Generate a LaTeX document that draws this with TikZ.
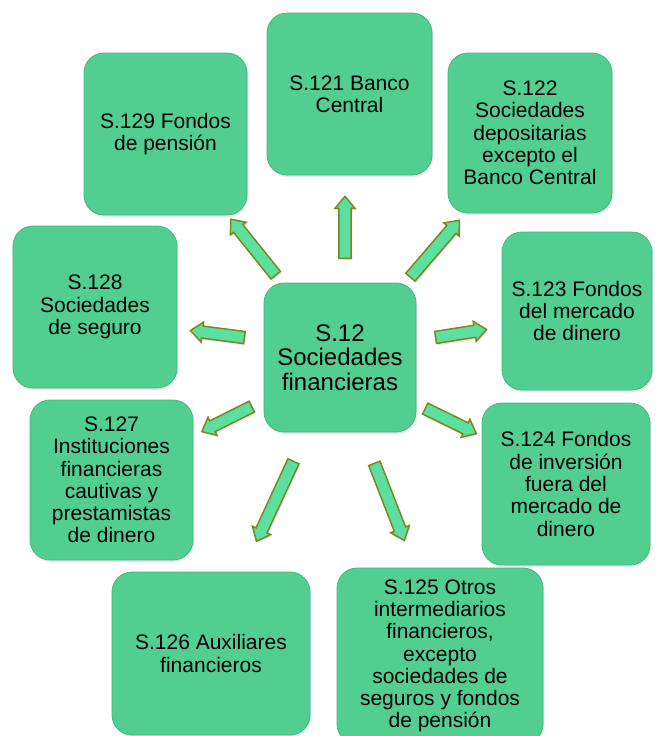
\documentclass[tikz,border=0pt]{standalone}
\usepackage{fontspec}
\setmainfont{Liberation Sans}
\usetikzlibrary{shapes.arrows,calc,shadows}
\definecolor{boxgreen}{HTML}{52CF90}
\definecolor{boxedge}{HTML}{44B87D}
\definecolor{arrowfill}{HTML}{5CE0A0}
\definecolor{arrowedge}{HTML}{7E8420}
\newcommand\blockarr[3]{%
  \path let \p1=($(#3)-(#2)$), \n1={atan2(\y1,\x1)}, \n2={veclen(\x1,\y1)} in
    node[blockarrow, minimum height=\n2, rotate=\n1] (#1) at ($(#2)!0.5!(#3)$) {};}
\begin{document}
\begin{tikzpicture}[x=0.75pt,y=-0.75pt,
  box/.style 2 args={draw=boxedge, line width=0.6pt, fill=boxgreen,
    rounded corners=15pt, minimum width=#1*0.75pt, minimum height=#2*0.75pt,
    inner sep=0pt, align=center, font=\fontsize{15.75}{16.7}\selectfont,
    drop shadow={opacity=0.18, shadow xshift=1pt, shadow yshift=-1.5pt}},
  bigtext/.style={font=\fontsize{18}{18.3}\selectfont},
  blockarrow/.style={single arrow, draw=arrowedge, fill=arrowfill,
    line width=1.1pt, minimum width=15pt, single arrow head extend=3pt,
    single arrow tip angle=80, inner xsep=0pt, inner ysep=4pt,
    drop shadow={opacity=0.2, shadow xshift=1pt, shadow yshift=-1.5pt}}]
\useasboundingbox (0,0) rectangle (657,736);
\clip (0,0) rectangle (657,736);

% boxes
\node[box={152}{149}, bigtext] (c) at (340,357.5) {S.12\\Sociedades\\financieras};
\node[box={163}{162}] (s129) at (165.5,134) {S.129 Fondos\\de pensión};
\node[box={165}{162}] (s121) at (349.5,94) {S.121 Banco\\Central};
\node[box={164}{160}] (s122) at (530,133) {S.122\\Sociedades\\depositarias\\excepto el\\Banco Central};
\node[box={150}{158}] (s123) at (577,311) {S.123 Fondos\\del mercado\\de dinero};
\node[box={168}{162}] (s124) at (566,484) {S.124 Fondos\\de inversión\\fuera del\\mercado de\\dinero};
\node[box={206}{176}] (s125) at (440,656) {S.125 Otros\\intermediarios\\financieros,\\excepto\\sociedades de\\seguros y fondos\\de pensión};
\node[box={198}{163}] (s126) at (211,653.5) {S.126 Auxiliares\\financieros};
\node[box={163}{160}] (s127) at (111.5,480) {S.127\\Instituciones\\financieras\\cautivas y\\prestamistas\\de dinero};
\node[box={164}{162}] (s128) at (95,307) {S.128\\Sociedades\\de seguro};

% arrow end points
\coordinate (t1) at (345,262); \coordinate (h1) at (345,200);
\coordinate (t2) at (278,278); \coordinate (h2) at (233,222);
\coordinate (t3) at (408,280); \coordinate (h3) at (457,223);
\coordinate (t4) at (248,338); \coordinate (h4) at (194,331);
\coordinate (t5) at (432,338); \coordinate (h5) at (483,330);
\coordinate (t6) at (255,405); \coordinate (h6) at (205,430);
\coordinate (t7) at (422,407); \coordinate (h7) at (473,432);
\coordinate (t8) at (295,458); \coordinate (h8) at (258,538);
\coordinate (t9) at (373,460); \coordinate (h9) at (403,537);

\blockarr{a1}{t1}{h1}
\blockarr{a2}{t2}{h2}
\blockarr{a3}{t3}{h3}
\blockarr{a4}{t4}{h4}
\blockarr{a5}{t5}{h5}
\blockarr{a6}{t6}{h6}
\blockarr{a7}{t7}{h7}
\blockarr{a8}{t8}{h8}
\blockarr{a9}{t9}{h9}
\end{tikzpicture}
\end{document}
